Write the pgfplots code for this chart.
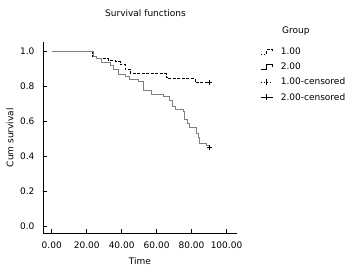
\documentclass[border=0pt]{standalone}
\usepackage{pgfplots}
\pgfplotsset{compat=1.18}
\usepackage{fontspec}
\setmainfont{DejaVu Sans}
\definecolor{g2}{rgb}{0.5,0.5,0.5}
\pgfplotsset{
  legA/.style={legend image code/.code={\draw[black, line width=0.6pt, dash pattern=on 1.5pt off 1.5pt] (0pt,-2pt)--(6pt,-2pt); \draw[black, line width=0.6pt] (6pt,-2pt)--(6pt,2.5pt)--(12pt,2.5pt)--(12pt,0pt);}},
  legB/.style={legend image code/.code={\draw[black, line width=0.6pt] (0pt,-2pt)--(6pt,-2pt)--(6pt,2.5pt)--(12pt,2.5pt)--(12pt,0pt);}},
  legC/.style={legend image code/.code={\draw[black, line width=0.6pt, dash pattern=on 1.5pt off 1.5pt] (0pt,0pt)--(12pt,0pt); \draw[black,line width=0.6pt] (6pt,-3pt)--(6pt,3pt);}},
  legD/.style={legend image code/.code={\draw[black, line width=0.6pt] (0pt,0pt)--(12pt,0pt); \draw[black,line width=0.6pt] (6pt,-3pt)--(6pt,3pt);}},
}
\begin{document}
\begin{tikzpicture}[x=1pt,y=1pt]
\path[use as bounding box] (0,0) rectangle (356,272);
\begin{axis}[
  at={(43pt,38.5pt)}, anchor=south west,
  scale only axis, width=194pt, height=191.8pt,
  xmin=-5, xmax=106, ymin=-0.04, ymax=1.053,
  axis x line*=bottom, axis y line*=left,
  axis line style={-, line width=0.6pt},
  tick align=inside, major tick length=4pt,
  tick style={black, line width=0.6pt},
  xtick={0,20,40,60,80,100},
  ytick={0,0.2,0.4,0.6,0.8,1.0},
  xticklabel style={/pgf/number format/.cd, fixed, fixed zerofill, precision=2, assume math mode=true},
  yticklabel style={/pgf/number format/.cd, fixed, fixed zerofill, precision=1, assume math mode=true},
  ticklabel style={font=\fontsize{9}{10}\selectfont},
  xticklabel shift=4.5pt, yticklabel shift=5pt,
  xlabel={Time}, ylabel={Cum survival},
  label style={font=\fontsize{9}{10}\selectfont},
  xlabel style={at={(axis description cs:0.5,-0.145)}, anchor=center},
  ylabel style={at={(axis description cs:-0.17,0.5)}, anchor=center},
  clip=false,
  legend style={at={(217pt,187.5pt)}, anchor=north west, draw=none, fill=none,
    font=\fontsize{9}{10}\selectfont, row sep=2.8pt, inner sep=0pt},
  legend cell align=left,
]
% Group 1.00
\addplot[black, line width=0.6pt, dash pattern=on 3pt off 1.5pt, const plot, legA]
coordinates {
(0,1.0) (23.3,0.971) (25.7,0.957) (32.4,0.949) (36.5,0.939) (39,0.924)
(42,0.895) (45,0.872) (65.3,0.85) (66.8,0.844) (81.9,0.821) (90,0.821)
};
\addlegendentry{\hspace{6pt}1.00}
% Group 2.00
\addplot[g2, line width=0.8pt, const plot, legB]
coordinates {
(0,1.0) (23.8,0.971) (25.7,0.959) (28.6,0.933) (33.3,0.92) (35.2,0.895)
(38.1,0.869) (41.9,0.853) (44.7,0.84) (49.5,0.825) (52.4,0.777) (57.1,0.753)
(63.8,0.739) (67.6,0.72) (69.1,0.686) (71,0.667) (75.2,0.653) (75.8,0.61)
(77.5,0.587) (79,0.567) (82.5,0.533) (83.8,0.507) (84.7,0.472) (88.6,0.463) (90,0.45)
};
\addlegendentry{\hspace{6pt}2.00}
% censored
\addplot[black, only marks, mark=+, mark size=2.5pt, line width=0.6pt, legC]
coordinates {(90,0.821)};
\addlegendentry{\hspace{6pt}1.00-censored}
\addplot[black, only marks, mark=+, mark size=2.5pt, line width=0.6pt, legD]
coordinates {(90,0.45)};
\addlegendentry{\hspace{6pt}2.00-censored}
\end{axis}
\node[font=\fontsize{9}{10}\selectfont] at (145.5,259) {Survival functions};
\node[font=\fontsize{9}{10}\selectfont, anchor=west, inner xsep=0pt] at (282,240.7) {Group};
\end{tikzpicture}
\end{document}
